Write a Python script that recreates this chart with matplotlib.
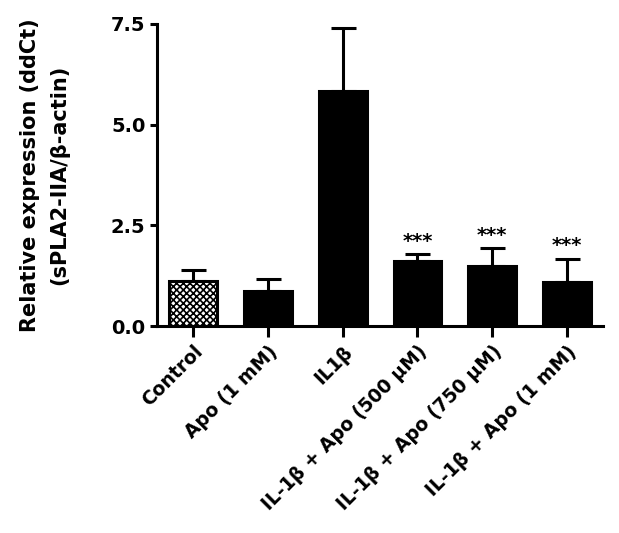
import matplotlib
matplotlib.use('Agg')
import matplotlib.pyplot as plt

plt.rcParams['font.family'] = ['DejaVu Sans']
plt.rcParams['font.weight'] = 'bold'
plt.rcParams['hatch.linewidth'] = 1.2

groups = ['Control', 'Apo (1 mM)', 'IL1\u03b2', 'IL-1\u03b2 + Apo (500 \u03bcM)',
          'IL-1\u03b2 + Apo (750 \u03bcM)', 'IL-1\u03b2 + Apo (1 mM)']
means = [1.12, 0.87, 5.84, 1.62, 1.50, 1.10]
errs = [0.27, 0.30, 1.55, 0.17, 0.44, 0.58]
stars = ['', '', '', '***', '***', '***']
yticks = [0.0, 2.5, 5.0, 7.5]

fig = plt.figure(figsize=(6.19, 5.33), dpi=100)
ax = fig.add_axes([0.254, 0.388, 0.72, 0.567])

x = list(range(len(groups)))
colors = ['white'] + ['black'] * (len(groups) - 1)
bars = ax.bar(x, means, width=0.64, color=colors, edgecolor='black', linewidth=2.2, zorder=2)
bars[0].set_hatch('xxxxx')
ax.errorbar(x, means, yerr=[[0] * len(errs), errs], fmt='none', ecolor='black',
            elinewidth=2.2, capsize=9, capthick=2.2, zorder=1)

for xi, m, e, s in zip(x, means, errs, stars):
    if s:
        ax.text(xi, m + e + 0.08, s, ha='center', va='bottom', fontsize=14, fontweight='bold')

ax.set_xlim(-0.48, 5.48)
ax.set_ylim(0, 7.5)
ax.set_yticks(yticks)
ax.set_yticklabels(['%.1f' % t for t in yticks], fontsize=14, fontweight='bold')
ax.set_xticks(x)
ax.set_xticklabels(groups, rotation=45, ha='right', rotation_mode='anchor', fontsize=13.5, fontweight='bold')
ax.tick_params(axis='y', width=2.2, length=5)
ax.tick_params(axis='x', width=2.2, length=8)
ax.spines['right'].set_visible(False)
ax.spines['top'].set_visible(False)
ax.spines['left'].set_linewidth(2.2)
ax.spines['bottom'].set_linewidth(2.2)
ax.set_ylabel('Relative expression (ddCt)\n(sPLA2-IIA/\u03b2-actin)', fontsize=15, fontweight='bold',
              labelpad=30, linespacing=1.6)

plt.savefig('out.png', dpi=100)
